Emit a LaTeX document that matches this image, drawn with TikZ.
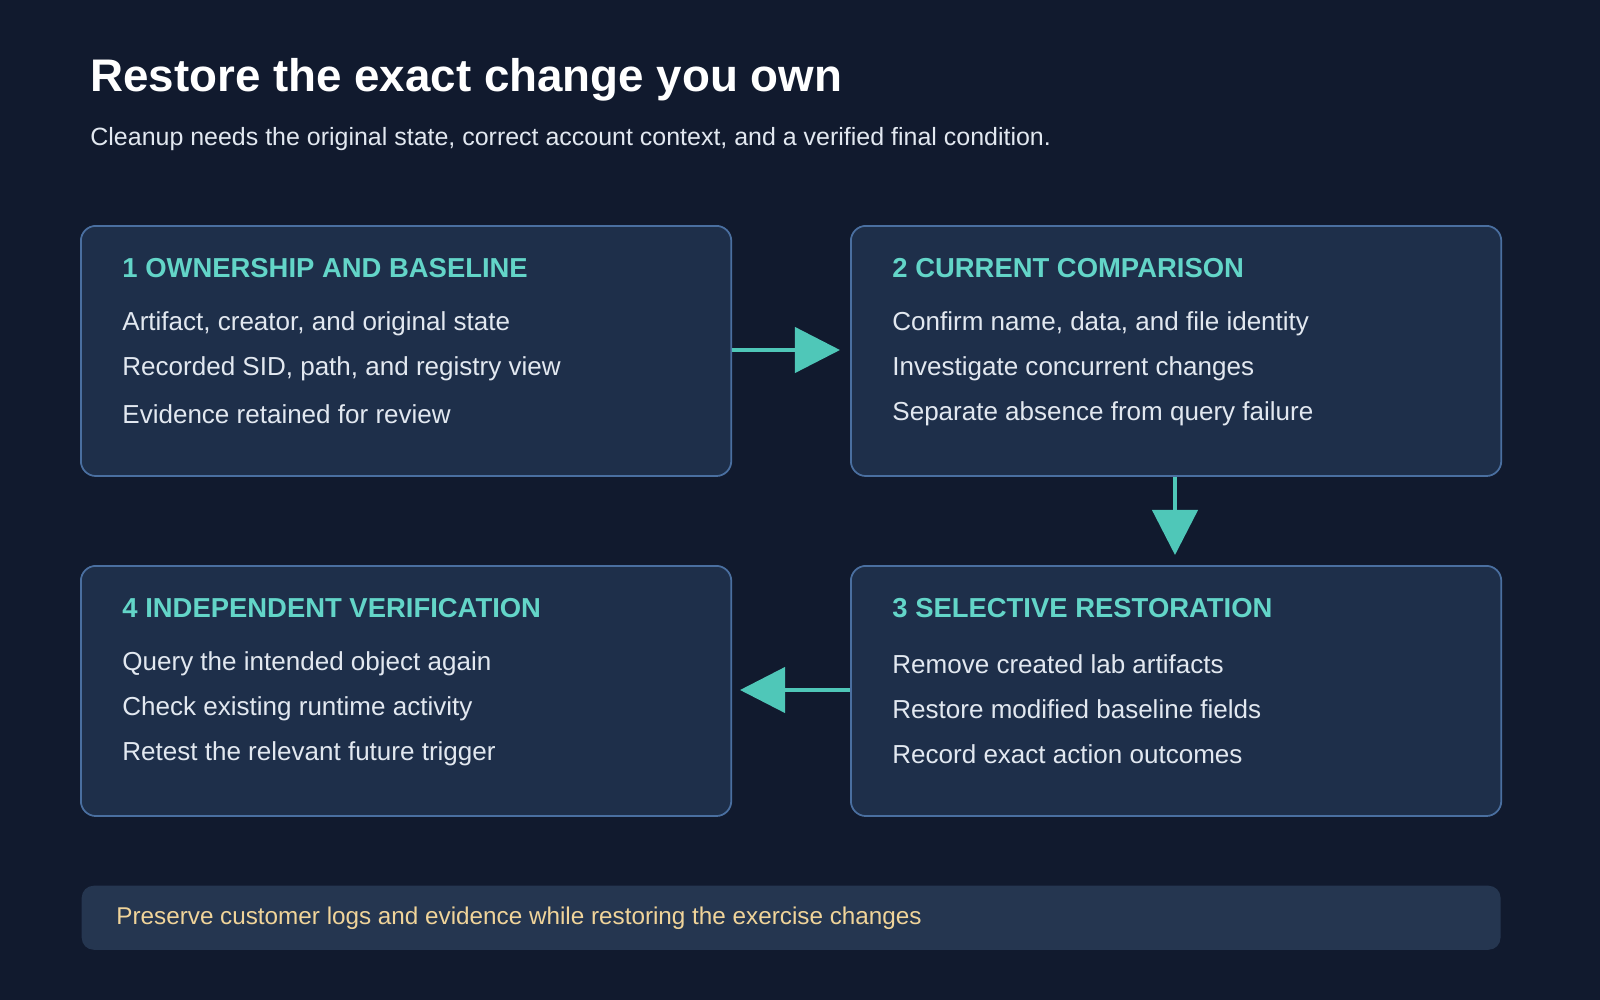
\documentclass[tikz,border=0pt]{standalone}
\usepackage{fontspec}
\setmainfont{Liberation Sans}
\usetikzlibrary{arrows.meta,positioning}
\definecolor{bgc}{HTML}{111A2E}
\definecolor{boxc}{HTML}{1E2F4A}
\definecolor{edgec}{HTML}{4A6FA0}
\definecolor{headc}{HTML}{63D5C8}
\definecolor{arrc}{HTML}{4FC7B8}
\definecolor{txtc}{HTML}{E2E8F0}
\definecolor{notec}{HTML}{253650}
\definecolor{notetxt}{HTML}{F0D49A}
\begin{document}
\begin{tikzpicture}
	[x=0.01cm,y=-0.01cm,
	stepbox/.style = {draw=edgec, fill=boxc, line width=0.5pt, rounded corners=0.15cm,
		minimum width=6.5cm, minimum height=2.5cm, anchor=north west},
	head/.style = {anchor=west, text=headc, font=\fontsize{7.8}{9}\selectfont\bfseries},
	item/.style = {anchor=west, text=txtc, font=\fontsize{7.4}{9}\selectfont},
	flow/.style = {draw=arrc, line width=1.2pt, -{Triangle[length=0.45cm,width=0.45cm]}}]
	\fill[bgc] (0,0) rectangle (1600,1000);
	\node[anchor=west, text=white, font=\fontsize{13}{15}\selectfont\bfseries] (title) at (78,80) {Restore the exact change you own};
	\node[anchor=west, text=txtc, font=\fontsize{7.1}{9}\selectfont] (sub) at (78,139) {Cleanup needs the original state, correct account context, and a verified final condition.};
	% steps
	\node[stepbox] (s1) at (80,225) {};
	\node[stepbox] (s2) at (850,225) {};
	\node[stepbox] (s3) at (850,565) {};
	\node[stepbox] (s4) at (80,565) {};
	\node[head] (h1) at (110,268) {1 OWNERSHIP AND BASELINE};
	\node[item] at (110,324) {Artifact, creator, and original state};
	\node[item] at (110,369) {Recorded SID, path, and registry view};
	\node[item] at (110,414) {Evidence retained for review};
	\node[head] (h2) at (880,268) {2 CURRENT COMPARISON};
	\node[item] at (880,324) {Confirm name, data, and file identity};
	\node[item] at (880,369) {Investigate concurrent changes};
	\node[item] at (880,414) {Separate absence from query failure};
	\node[head] (h3) at (880,608) {3 SELECTIVE RESTORATION};
	\node[item] at (880,664) {Remove created lab artifacts};
	\node[item] at (880,709) {Restore modified baseline fields};
	\node[item] at (880,754) {Record exact action outcomes};
	\node[head] (h4) at (110,608) {4 INDEPENDENT VERIFICATION};
	\node[item] at (110,664) {Query the intended object again};
	\node[item] at (110,709) {Check existing runtime activity};
	\node[item] at (110,754) {Retest the relevant future trigger};
	% connectors
	\coordinate (e2) at (840,350);
	\coordinate (e3) at (1175,555);
	\coordinate (e4) at (740,690);
	\draw[flow] (s1.east |- e2) -- (e2);
	\draw[flow] (s2.south -| e3) -- (e3);
	\draw[flow] (s3.west |- e4) -- (e4);
	% note
	\node[fill=notec, rounded corners=0.12cm, minimum width=14.18cm, minimum height=0.64cm, anchor=north west] (note) at (81,885) {};
	\node[anchor=west, text=notetxt, font=\fontsize{6.9}{9}\selectfont] at (104,918) {Preserve customer logs and evidence while restoring the exercise changes};
\end{tikzpicture}
\end{document}
